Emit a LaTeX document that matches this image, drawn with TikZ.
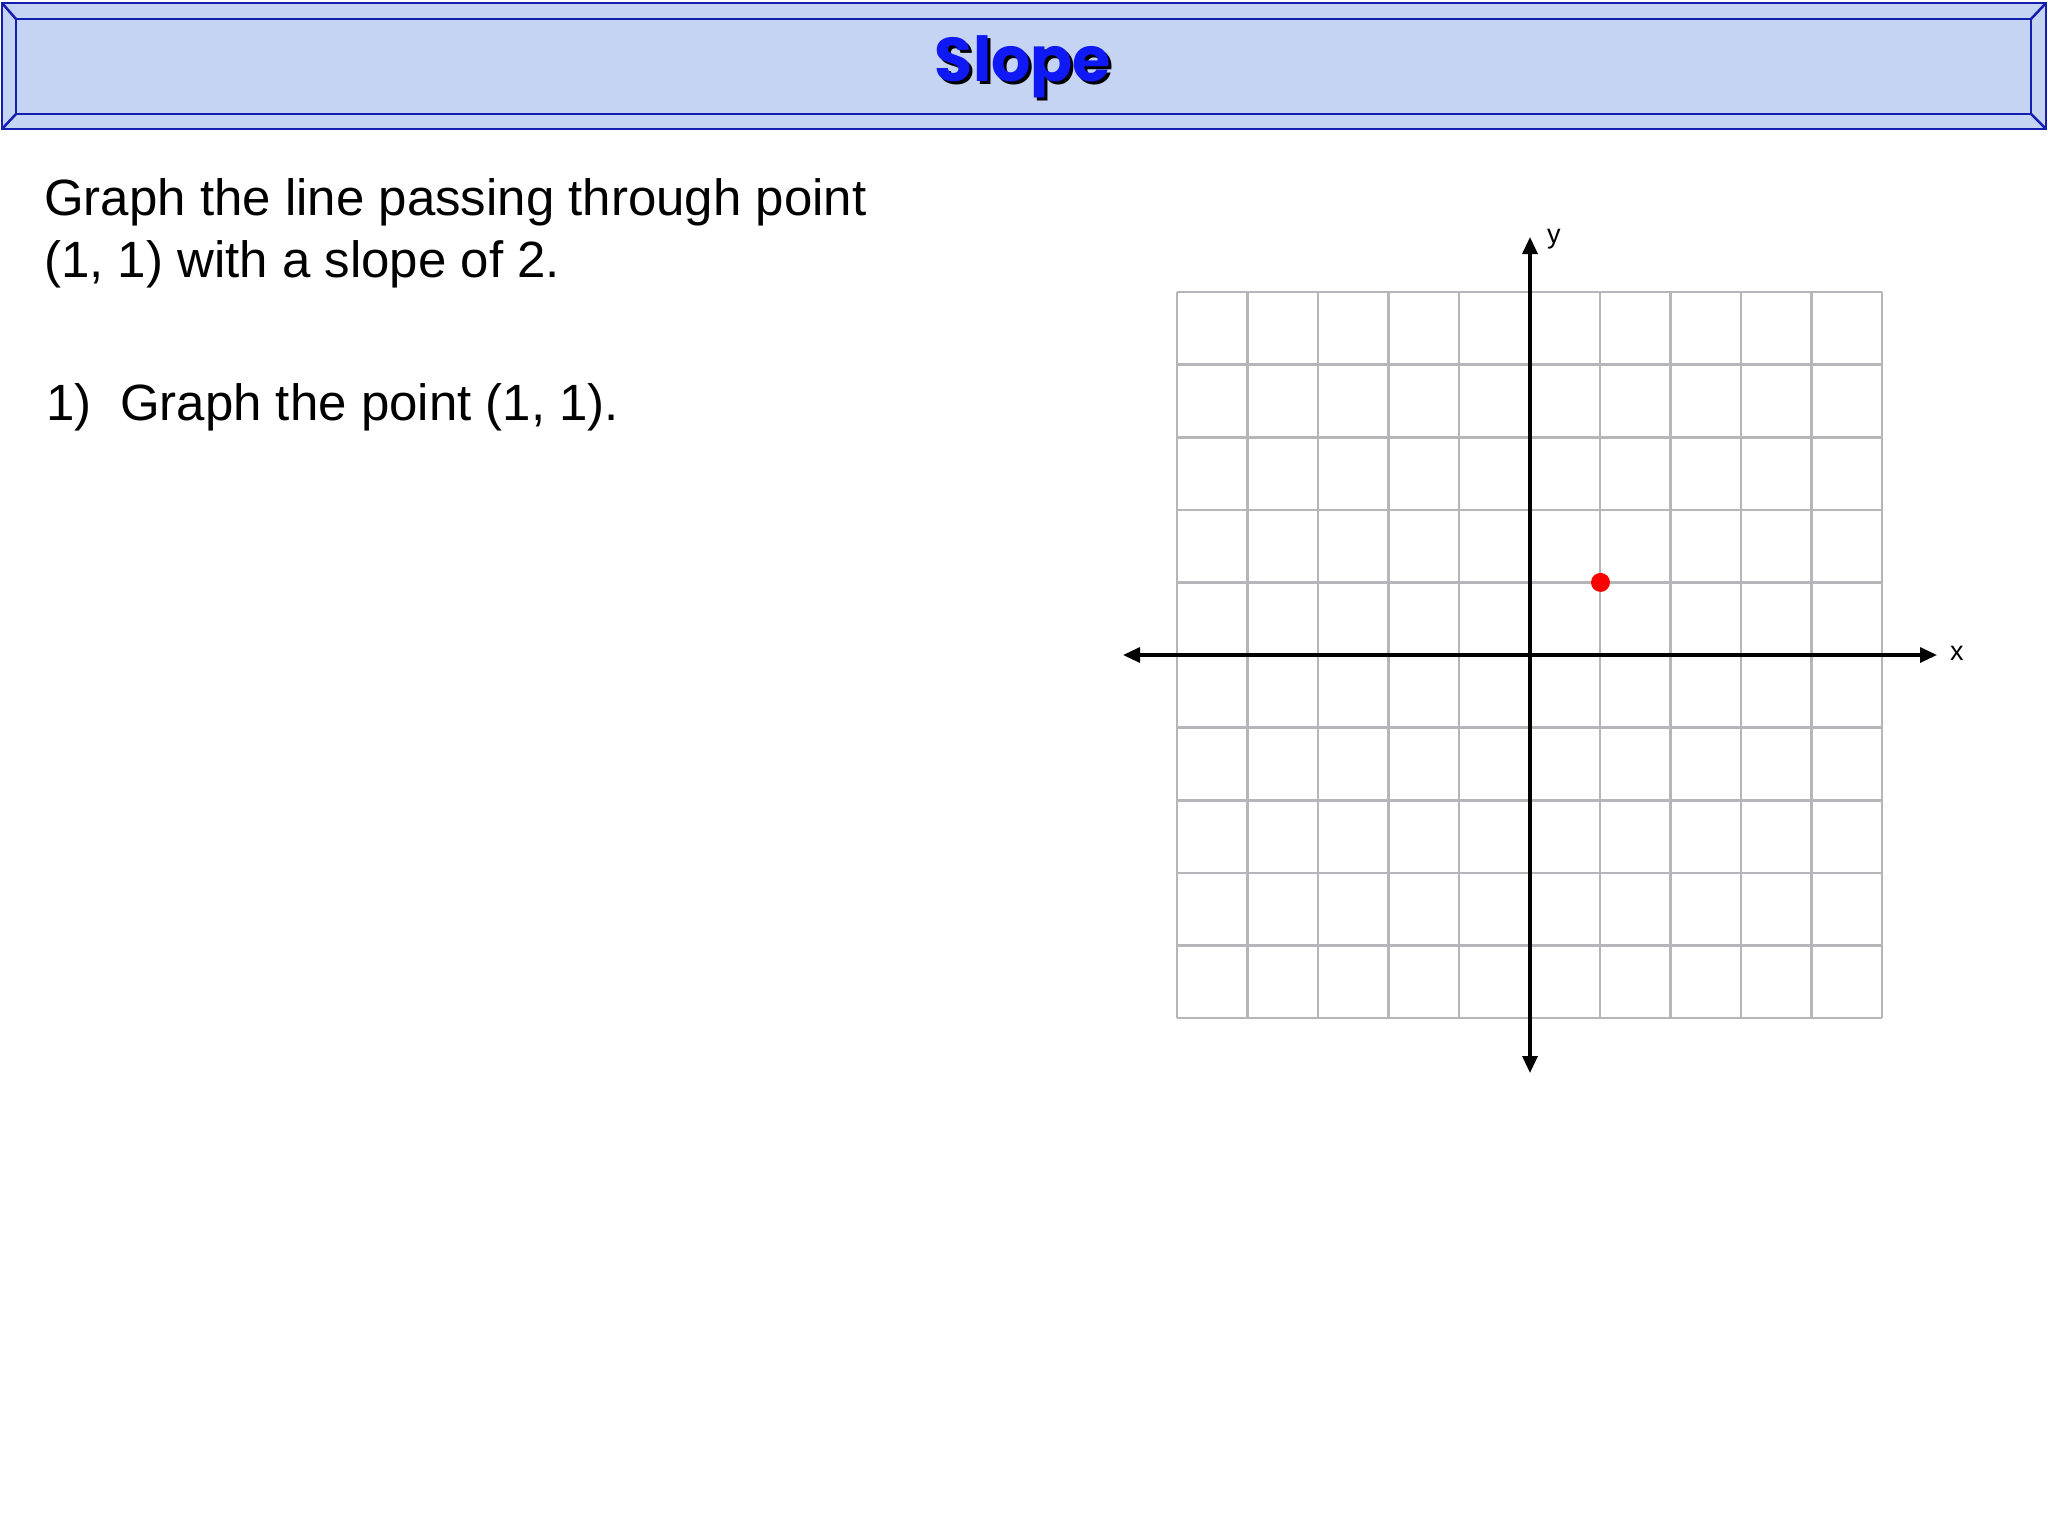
\documentclass[tikz,border=0pt]{standalone}
\usepackage{fontspec}
\setmainfont{Liberation Sans}
\newfontfamily\titlefont{Poppins}
\usetikzlibrary{arrows.meta,positioning}

\definecolor{bannerline}{RGB}{20,30,175}
\definecolor{bannerfill}{RGB}{198,212,244}
\definecolor{titleblue}{RGB}{15,25,245}
\definecolor{gridgray}{RGB}{182,182,186}
\definecolor{dotred}{RGB}{250,0,0}

\tikzset{
  banner/.style={draw=bannerline, line width=2.5pt},
  gridline/.style={draw=gridgray, line width=2.6pt},
  axis/.style={draw=black, line width=3.2pt, {Triangle[length=17pt,width=15pt]}-{Triangle[length=17pt,width=15pt]}},
  prompt/.style={anchor=base west, inner sep=0pt, font=\fontsize{51}{62}\selectfont},
  axislabel/.style={anchor=base west, inner sep=0pt, font=\fontsize{27}{30}\selectfont},
  titletext/.style={inner sep=0pt, font=\titlefont\bfseries\fontsize{62}{66}\selectfont}
}

\begin{document}
\begin{tikzpicture}[x=1pt, y=-1pt]
  \useasboundingbox (0,0) rectangle (2048,1536);
  \fill[white] (0,0) rectangle (2048,1536);

  % title banner
  \fill[bannerfill] (2,3) rectangle (2046,129);
  \draw[banner] (2,3) rectangle (2046,129);
  \draw[banner] (16,19) rectangle (2031,114);
  \draw[banner] (2,3) -- (16,19) (2046,3) -- (2031,19)
                (2,129) -- (16,114) (2046,129) -- (2031,114);
  \node[titletext, text=black] (titleshadow) at (1026,70) {Slope};
  \node[titletext, text=titleblue] (title) at (1023,67) {Slope};

  % the question
  \node[prompt] (prompta) at (44,215) {Graph the line passing through point};
  \node[prompt] (promptb) at (44,277) {(1, 1) with a slope of 2.};
  \node[prompt] (stepone) at (46,420) {1)\hspace{0.56em}Graph the point (1, 1).};

  % grid
  \foreach \i in {0,...,10} {
    \draw[gridline] (1177+70.5*\i,292) -- (1177+70.5*\i,1018);
    \draw[gridline] (1177,292+72.6*\i) -- (1882,292+72.6*\i);
  }

  % axes
  \coordinate (xleft) at (1123,655);
  \coordinate (xright) at (1937,655);
  \coordinate (ytop) at (1530,237);
  \coordinate (ybottom) at (1530,1073);
  \draw[axis] (xleft) -- (xright);
  \draw[axis] (ybottom) -- (ytop);
  \node[axislabel] (xlabel) at (1950,660) {x};
  \node[axislabel] (ylabel) at (1547,243) {y};

  % the point (1, 1)
  \fill[dotred] (1600.5,582.4) circle (9.5);
\end{tikzpicture}
\end{document}
